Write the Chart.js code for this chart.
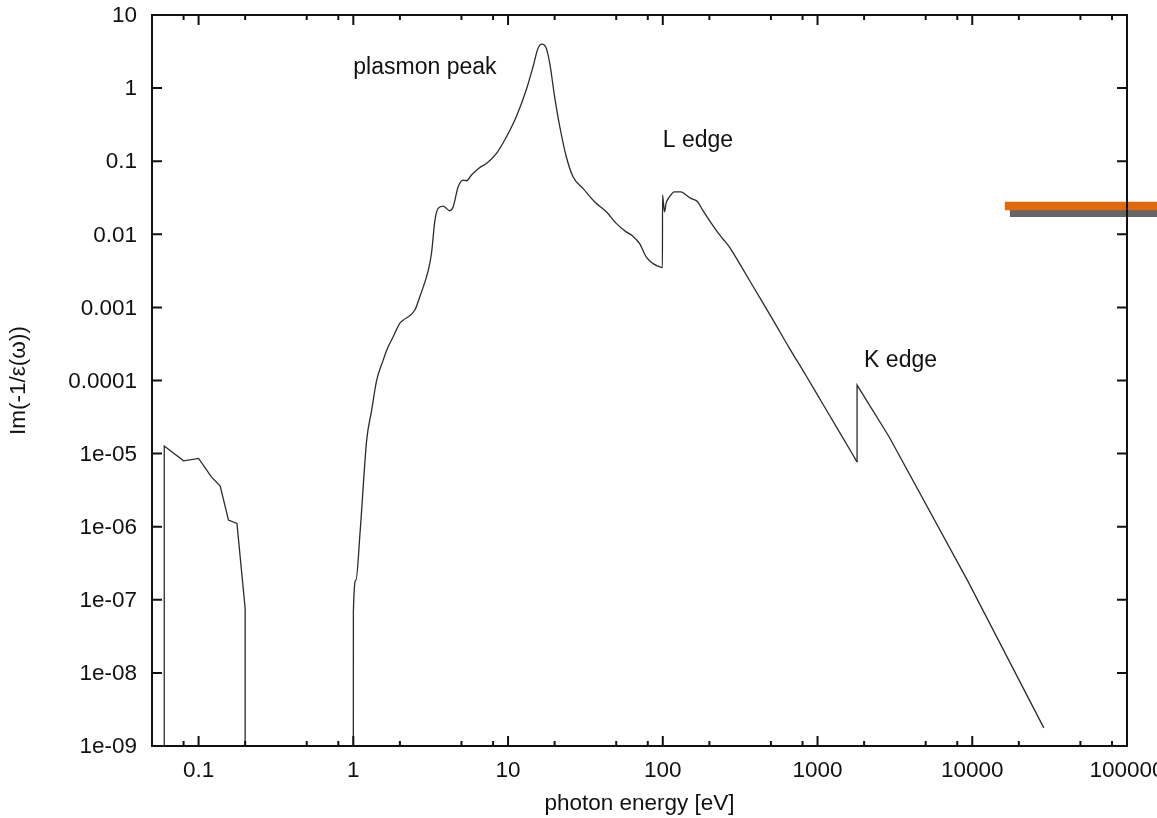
<!DOCTYPE html>
<html>
<head>
<meta charset="utf-8">
<title>Energy loss function</title>
<script src="https://cdn.jsdelivr.net/npm/chart.js@4.4.0/dist/chart.umd.min.js"></script>
<style>
  html, body { margin: 0; padding: 0; background: #fff; }
</style>
</head>
<body>
<canvas id="loss-chart" width="1157" height="818"></canvas>
<script>
// low energy part of the loss function (below 0.2 eV)
const lowEnergy = [0.06, 0.06, 0.08, 0.1, 0.121, 0.138, 0.156, 0.177, 0.2, 0.2];
const lowLoss = [1e-10, 1.27e-5, 7.97e-6, 8.6e-6, 4.8e-6, 3.6e-6, 1.23e-6, 1.11e-6, 7.6e-8, 1e-10];

// main part, from 1 eV up: plasmon peak, L edge, K edge
const mainEnergy = [1, 1.001, 1.04, 1.105, 1.22, 1.314, 1.416, 1.56, 1.643, 1.81,
  2.0, 2.1, 2.5, 2.69, 3.05, 3.2, 3.37, 3.53, 3.81, 4.0,
  4.2, 4.42, 4.76, 5.13, 5.39, 5.8, 6.57, 7.25, 8.42, 9.77,
  11.3, 13.1, 14.5, 15.6, 16.5, 17.5, 18.6, 20.0, 21.6, 23.8,
  26.3, 30.5, 36.2, 43.2, 50.0, 58.0, 64.0, 70.7, 78.1, 86.1,
  97.7, 99.5, 99.6, 101, 102.6, 105, 110.5, 119, 131, 141.5,
  152, 168, 181, 221, 244, 269, 313, 401, 513, 656,
  842, 1077, 1380, 1800, 1801, 2900, 9290, 29000];
const mainLoss = [1e-10, 6.9e-8, 1.86e-7, 8.2e-7, 1.53e-5, 3.94e-5, 1.01e-4, 1.9e-4, 2.6e-4, 3.97e-4,
  6.1e-4, 6.7e-4, 9.2e-4, 1.4e-3, 3.2e-3, 5.5e-3, 0.0156, 0.0226, 0.0243, 0.0226,
  0.021, 0.0238, 0.0447, 0.055, 0.054, 0.0646, 0.082, 0.0933, 0.128, 0.216,
  0.405, 0.94, 1.96, 3.49, 4.0, 3.67, 2.18, 0.76, 0.296, 0.115,
  0.0612, 0.0425, 0.0279, 0.0203, 0.0141, 0.0108, 0.00945, 0.0075, 0.0049, 0.004,
  0.00352, 0.0035, 0.0344, 0.0265, 0.0203, 0.0265, 0.0326, 0.0381, 0.0381, 0.0344,
  0.031, 0.0279, 0.0214, 0.0114, 0.0087, 0.00675, 0.004, 1.65e-3, 6.85e-4, 2.8e-4,
  1.17e-4, 4.85e-5, 2.0e-5, 7.7e-6, 8.65e-5, 1.7e-5, 1.86e-7, 1.77e-9];

// the orange stroke (with its grey shadow) at the right edge
const barEnergy = [16250, 300000];
const barLevel = [0.0244, 0.0244];
const shadowEnergy = [17500, 300000];
const shadowLevel = [0.0196, 0.0196];

// axes
const xMajor = [0.1, 1, 10, 100, 1000, 10000, 100000];
const xMajorLabels = ['0.1', '1', '10', '100', '1000', '10000', '100000'];
const xMinor = [0.08, 0.2, 0.5, 0.8, 2, 5, 8, 20, 50, 80, 200, 500, 800,
  2000, 5000, 8000, 20000, 50000, 80000];
const yMajor = [10, 1, 0.1, 0.01, 0.001, 0.0001, 1e-5, 1e-6, 1e-7, 1e-8, 1e-9];
const yMajorLabels = ['10', '1', '0.1', '0.01', '0.001', '0.0001', '1e-05', '1e-06', '1e-07', '1e-08', '1e-09'];

// annotations, anchored in data coordinates (left edge, baseline)
const notes = [
  {text: 'plasmon peak', x: 1, y: 1.58},
  {text: 'L edge', x: 100, y: 0.157},
  {text: 'K edge', x: 2000, y: 1.54e-4}
];

function toPoints(xs, ys) {
  return xs.map((v, i) => ({x: v, y: ys[i]}));
}

// smooth up to the foot of the K edge, straight from there on
const kEdge = mainEnergy.indexOf(1800);

const FAMILY = '"Liberation Sans", Arial, Helvetica, sans-serif';

// gnuplot style frame: inward ticks on all four sides, labels, titles
const gnuplotFrame = {
  id: 'gnuplotFrame',
  afterDatasetsDraw(chart) {
    const {ctx, chartArea: a, scales: {x, y}} = chart;
    ctx.save();
    ctx.strokeStyle = '#111';
    ctx.lineWidth = 2;
    ctx.strokeRect(a.left, a.top, a.right - a.left, a.bottom - a.top);

    ctx.beginPath();
    xMajor.forEach(v => {
      const px = x.getPixelForValue(v);
      ctx.moveTo(px, a.bottom); ctx.lineTo(px, a.bottom - 10);
      ctx.moveTo(px, a.top); ctx.lineTo(px, a.top + 10);
    });
    xMinor.forEach(v => {
      const px = x.getPixelForValue(v);
      ctx.moveTo(px, a.bottom); ctx.lineTo(px, a.bottom - 5);
      ctx.moveTo(px, a.top); ctx.lineTo(px, a.top + 5);
    });
    yMajor.forEach(v => {
      const py = y.getPixelForValue(v);
      ctx.moveTo(a.left, py); ctx.lineTo(a.left + 10, py);
      ctx.moveTo(a.right, py); ctx.lineTo(a.right - 10, py);
    });
    ctx.stroke();

    ctx.fillStyle = '#111';
    ctx.font = '22.5px ' + FAMILY;
    ctx.textAlign = 'center';
    ctx.textBaseline = 'middle';
    xMajor.forEach((v, i) => {
      ctx.fillText(xMajorLabels[i], x.getPixelForValue(v), a.bottom + 25);
    });
    ctx.textAlign = 'right';
    yMajor.forEach((v, i) => {
      ctx.fillText(yMajorLabels[i], a.left - 15, y.getPixelForValue(v) + 1);
    });

    ctx.textAlign = 'center';
    ctx.textBaseline = 'alphabetic';
    ctx.fillText('photon energy [eV]', (a.left + a.right) / 2, 810);

    ctx.save();
    ctx.translate(19, (a.top + a.bottom) / 2);
    ctx.rotate(-Math.PI / 2);
    ctx.textBaseline = 'middle';
    ctx.fillText('Im(-1/ε(ω))', 0, 0);
    ctx.restore();

    ctx.font = '23px ' + FAMILY;
    ctx.textAlign = 'left';
    notes.forEach(n => {
      ctx.fillText(n.text, x.getPixelForValue(n.x), y.getPixelForValue(n.y));
    });
    ctx.restore();
  }
};

const lossChart = new Chart('loss-chart', {
  type: 'line',
  data: {
    datasets: [{
      label: 'bar',
      data: toPoints(barEnergy, barLevel),
      borderColor: '#e0690e',
      borderWidth: 8.3,
      borderCapStyle: 'butt',
      clip: false,
      order: 0
    }, {
      label: 'shadow',
      data: toPoints(shadowEnergy, shadowLevel),
      borderColor: '#666666',
      borderWidth: 8.3,
      borderCapStyle: 'butt',
      clip: false,
      order: 1
    }, {
      label: 'loss function (low energy)',
      data: toPoints(lowEnergy, lowLoss),
      borderColor: '#2b2b2b',
      borderWidth: 1.3,
      order: 2
    }, {
      label: 'loss function',
      data: toPoints(mainEnergy.slice(0, kEdge + 1), mainLoss.slice(0, kEdge + 1)),
      borderColor: '#2b2b2b',
      borderWidth: 1.3,
      cubicInterpolationMode: 'monotone',
      order: 3
    }, {
      label: 'loss function above K edge',
      data: toPoints(mainEnergy.slice(kEdge), mainLoss.slice(kEdge)),
      borderColor: '#2b2b2b',
      borderWidth: 1.3,
      borderJoinStyle: 'miter',
      order: 4
    }]
  },
  options: {
    responsive: false,
    animation: false,
    layout: {padding: {left: 152, right: 30, top: 15, bottom: 72}},
    elements: {point: {radius: 0}, line: {tension: 0, fill: false}},
    plugins: {legend: {display: false}, tooltip: {enabled: false}},
    scales: {
      x: {type: 'logarithmic', min: 0.05, max: 100000, display: false},
      y: {type: 'logarithmic', min: 1e-9, max: 10, display: false}
    }
  },
  plugins: [gnuplotFrame]
});
</script>
</body>
</html>
